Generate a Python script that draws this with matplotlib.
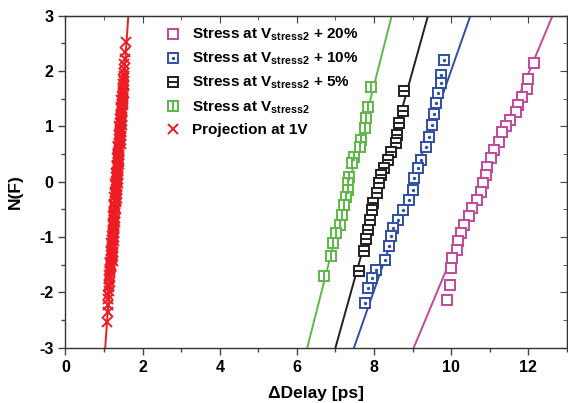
import matplotlib
matplotlib.use("Agg")
import matplotlib.pyplot as plt
from matplotlib.ticker import MultipleLocator

plt.rcParams['font.family'] = ['Liberation Sans', 'DejaVu Sans']
plt.rcParams['font.weight'] = 'bold'
plt.rcParams['axes.unicode_minus'] = False
plt.rcParams['mathtext.fontset'] = 'custom'
plt.rcParams['mathtext.rm'] = 'Liberation Sans:bold'
plt.rcParams['mathtext.it'] = 'Liberation Sans:bold'
plt.rcParams['mathtext.bf'] = 'Liberation Sans:bold'

# --- data ---
labels = ['Stress at V$_{stress2}$ + 20%', 'Stress at V$_{stress2}$ + 10%',
          'Stress at V$_{stress2}$ + 5%', 'Stress at V$_{stress2}$', 'Projection at 1V']
colors = ['#c2479f', '#2f4fa6', '#231f20', '#5db847', '#ed1c24']

x20 = [12.16, 12.00, 11.97, 11.83, 11.73, 11.67, 11.52, 11.41, 11.31, 11.24, 11.11, 11.03, 10.94,
       10.90, 10.83, 10.77, 10.68, 10.55, 10.45, 10.34, 10.25, 10.19, 10.14, 10.03, 9.99, 9.97, 9.89]
y20 = [2.15, 1.85, 1.67, 1.52, 1.38, 1.26, 1.11, 1.01, 0.90, 0.72, 0.57, 0.42, 0.27,
       0.12, -0.03, -0.18, -0.33, -0.48, -0.63, -0.78, -0.93, -1.08, -1.23, -1.38, -1.56, -1.86, -2.14]

x10 = [9.82, 9.73, 9.73, 9.67, 9.60, 9.56, 9.50, 9.43, 9.35, 9.22, 9.13, 9.04, 9.00, 8.91,
       8.74, 8.61, 8.50, 8.44, 8.40, 8.29, 8.05, 7.96, 7.84, 7.77]
y10 = [2.20, 1.93, 1.78, 1.60, 1.42, 1.23, 1.02, 0.81, 0.63, 0.39, 0.24, 0.06, -0.15, -0.33,
       -0.51, -0.69, -0.84, -0.99, -1.17, -1.41, -1.59, -1.74, -1.92, -2.19]

x5 = [8.78, 8.74, 8.66, 8.59, 8.58, 8.44, 8.35, 8.27, 8.18, 8.12, 8.07, 7.98, 7.95, 7.90,
      7.84, 7.79, 7.73, 7.60]
y5 = [1.64, 1.28, 1.05, 0.84, 0.69, 0.54, 0.39, 0.24, 0.12, -0.03, -0.21, -0.39, -0.51, -0.69,
      -0.87, -1.04, -1.26, -1.62]

x0 = [7.92, 7.84, 7.79, 7.77, 7.66, 7.64, 7.49, 7.43, 7.36, 7.32, 7.32, 7.28, 7.22, 7.17,
      7.12, 7.02, 6.93, 6.89, 6.69]
y0 = [1.71, 1.35, 1.14, 0.96, 0.75, 0.63, 0.45, 0.33, 0.09, -0.03, -0.15, -0.27, -0.42, -0.60,
      -0.78, -0.93, -1.11, -1.35, -1.71]

# projection at 1V: dense band of crosses
x1v = [1.56, 1.55, 1.54, 1.53, 1.53, 1.52, 1.51, 1.50, 1.52, 1.49, 1.51, 1.48, 1.50,
       1.51, 1.47, 1.48, 1.50, 1.46, 1.44, 1.47, 1.47, 1.43, 1.44, 1.47, 1.42, 1.40,
       1.43, 1.44, 1.39, 1.41, 1.43, 1.39, 1.36, 1.40, 1.40, 1.36, 1.37, 1.40, 1.35,
       1.33, 1.36, 1.37, 1.32, 1.34, 1.36, 1.32, 1.29, 1.33, 1.33, 1.29, 1.30, 1.33,
       1.28, 1.26, 1.29, 1.30, 1.25, 1.27, 1.29, 1.25, 1.22, 1.26, 1.26, 1.22, 1.23,
       1.26, 1.21, 1.19, 1.22, 1.23, 1.18, 1.20, 1.22, 1.18, 1.15, 1.19, 1.19, 1.15,
       1.16, 1.14, 1.15, 1.13, 1.15, 1.12, 1.13, 1.12, 1.11, 1.11, 1.10, 1.09, 1.07,
       1.48, 1.50, 1.45, 1.48, 1.50, 1.44, 1.46, 1.44, 1.47, 1.41, 1.45, 1.46, 1.41,
       1.42, 1.41, 1.43, 1.38, 1.41, 1.43, 1.37, 1.39, 1.37, 1.40, 1.34, 1.38, 1.39,
       1.34, 1.35, 1.34, 1.36, 1.31, 1.34, 1.36, 1.30, 1.32, 1.30, 1.33, 1.27, 1.31,
       1.32, 1.27, 1.28, 1.27, 1.29, 1.24, 1.27, 1.29, 1.23, 1.25, 1.23, 1.26, 1.20,
       1.24, 1.25, 1.20, 1.21, 1.20, 1.22, 1.17, 1.20, 1.22, 1.16, 1.18, 1.16]
y1v = [2.53, 2.35, 2.22, 2.12, 2.04, 1.97, 1.91, 1.86, 1.81, 1.76, 1.72, 1.68, 1.64,
       1.60, 1.55, 1.50, 1.45, 1.40, 1.35, 1.30, 1.25, 1.20, 1.15, 1.10, 1.05, 1.00,
       0.95, 0.90, 0.85, 0.80, 0.75, 0.70, 0.65, 0.60, 0.55, 0.50, 0.45, 0.40, 0.35,
       0.30, 0.25, 0.20, 0.15, 0.10, 0.05, 0.00, -0.05, -0.10, -0.15, -0.20, -0.25, -0.30,
       -0.35, -0.40, -0.45, -0.50, -0.55, -0.60, -0.65, -0.70, -0.75, -0.80, -0.85, -0.90, -0.95,
       -1.00, -1.05, -1.10, -1.15, -1.20, -1.25, -1.30, -1.35, -1.40, -1.45, -1.50, -1.55, -1.60,
       -1.64, -1.68, -1.72, -1.76, -1.81, -1.86, -1.91, -1.97, -2.04, -2.12, -2.22, -2.35, -2.53,
       1.575, 1.525, 1.475, 1.425, 1.375, 1.325, 1.275, 1.225, 1.175, 1.125, 1.075, 1.025, 0.975,
       0.925, 0.875, 0.825, 0.775, 0.725, 0.675, 0.625, 0.575, 0.525, 0.475, 0.425, 0.375, 0.325,
       0.275, 0.225, 0.175, 0.125, 0.075, 0.025, -0.025, -0.075, -0.125, -0.175, -0.225, -0.275,
       -0.325, -0.375, -0.425, -0.475, -0.525, -0.575, -0.625, -0.675, -0.725, -0.775, -0.825,
       -0.875, -0.925, -0.975, -1.025, -1.075, -1.125, -1.175, -1.225, -1.275, -1.325, -1.375,
       -1.425, -1.475, -1.525, -1.575]

# fitted lines: delay at N(F) = -3 and at N(F) = +3
fit_x_low = [9.03, 7.48, 7.00, 6.27, 1.03]
fit_x_high = [12.63, 10.50, 9.40, 8.46, 1.63]
fit_y = [-3, 3]

xs = [x20, x10, x5, x0, x1v]
ys = [y20, y10, y5, y0, y1v]
inner = [None, '.', '_', '|', None]

fig = plt.figure(figsize=(5.68, 4.03), dpi=100)
ax = fig.add_axes([0.1153, 0.1372, 0.8827, 0.8243])

handles = []
for i in range(5):
    ax.plot([fit_x_low[i], fit_x_high[i]], fit_y, color=colors[i], lw=1.4, zorder=2)
    if i == 4:
        h, = ax.plot(xs[i], ys[i], ls='none', marker='x', ms=7.5, mew=1.4,
                     color=colors[i], zorder=3)
        handles.append(h)
    else:
        h, = ax.plot(xs[i], ys[i], ls='none', marker='s', ms=6.5, mew=1.4,
                     mfc='white', mec=colors[i], zorder=3)
        if inner[i] is not None:
            ms_in = 2 if inner[i] == '.' else 5.5
            h2, = ax.plot(xs[i], ys[i], ls='none', marker=inner[i], ms=ms_in, mew=1.4,
                          color=colors[i], zorder=4)
            handles.append((h, h2))
        else:
            handles.append(h)

ax.set_xlim(0, 13)
ax.set_ylim(-3, 3)
ax.xaxis.set_major_locator(MultipleLocator(2))
ax.xaxis.set_minor_locator(MultipleLocator(1))
ax.yaxis.set_major_locator(MultipleLocator(1))
ax.yaxis.set_minor_locator(MultipleLocator(0.5))
ax.tick_params(which='both', direction='out', top=False, right=False, labelsize=11.5, color='#444444')
ax.tick_params(which='major', length=5, width=1)
ax.tick_params(which='minor', length=3, width=1)
for s in ax.spines.values():
    s.set_color('#333333')
    s.set_linewidth(1)

# inward ticks on top and right
sec_x = ax.secondary_xaxis('top')
sec_x.xaxis.set_major_locator(MultipleLocator(2))
sec_x.xaxis.set_minor_locator(MultipleLocator(1))
sec_x.tick_params(which='both', direction='in', labeltop=False, color='#444444')
sec_x.tick_params(which='major', length=5)
sec_x.tick_params(which='minor', length=3)
sec_y = ax.secondary_yaxis('right')
sec_y.yaxis.set_major_locator(MultipleLocator(1))
sec_y.yaxis.set_minor_locator(MultipleLocator(0.5))
sec_y.tick_params(which='both', direction='in', labelright=False, color='#444444')
sec_y.tick_params(which='major', length=5)
sec_y.tick_params(which='minor', length=3)

for lab in ax.get_xticklabels() + ax.get_yticklabels():
    lab.set_fontweight('bold')

ax.set_xlabel('\u0394Delay [ps]', fontsize=12.5, fontweight='bold')
ax.set_ylabel('N(F)', fontsize=12.5, fontweight='bold')
ax.xaxis.set_label_coords(0.5, -0.115)
ax.yaxis.set_label_coords(-0.085, 0.47)

ax.legend(handles, labels, loc='upper left', bbox_to_anchor=(0.2905, 0.933),
          bbox_transform=fig.transFigure, frameon=False,
          handlelength=1.0, handletextpad=0.75, labelspacing=0.5,
          borderpad=0, borderaxespad=0, prop={'weight': 'bold', 'size': 11})

fig.savefig('out.png', dpi=100)
